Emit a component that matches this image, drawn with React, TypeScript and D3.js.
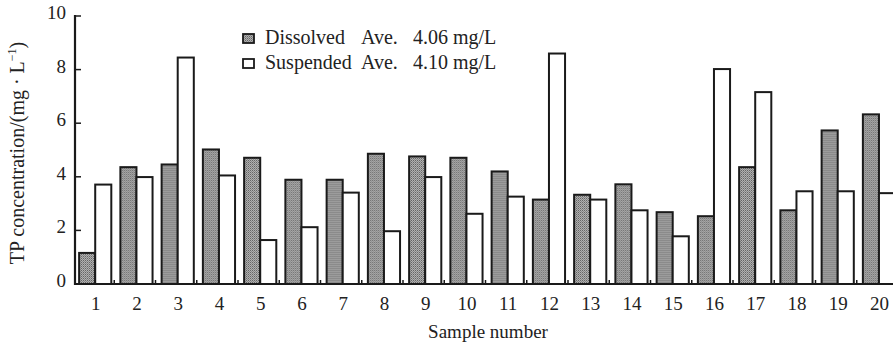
import React from 'react'
import * as d3 from 'd3'

const samples = ['1', '2', '3', '4', '5', '6', '7', '8', '9', '10', '11', '12', '13', '14', '15', '16', '17', '18', '19', '20']
const dissolved = [1.16, 4.36, 4.46, 5.02, 4.71, 3.89, 3.89, 4.86, 4.76, 4.71, 4.2, 3.15, 3.33, 3.72, 2.68, 2.53, 4.36, 2.75, 5.73, 6.33]
const suspended = [3.71, 3.99, 8.45, 4.05, 1.64, 2.12, 3.41, 1.97, 3.99, 2.62, 3.26, 8.6, 3.15, 2.75, 1.78, 8.02, 7.16, 3.46, 3.46, 3.39]
const yTicks = [0, 2, 4, 6, 8, 10]
const seriesKeys = ['dissolved', 'suspended']
const legendNames = ['Dissolved', 'Suspended']
const legendAve = ['4.06 mg/L', '4.10 mg/L']

const width = 893
const height = 349
const margin = { top: 16, right: -7, bottom: 65, left: 75 }
const font = '"Liberation Serif", "Times New Roman", serif'

export default function App() {
	const x = d3
		.scaleBand()
		.domain(samples)
		.range([margin.left, width - margin.right])
		.paddingInner(0)
	const bw = x.bandwidth()
	// dissolved bar a bit wider than suspended, like the original
	const x1 = d3
		.scaleBand()
		.domain(seriesKeys)
		.range([0.1 * bw, 0.88 * bw])
	const y = d3
		.scaleLinear()
		.domain([0, 10])
		.range([height - margin.bottom, margin.top])

	const rows = samples.map((s, i) => ({ s, dissolved: dissolved[i], suspended: suspended[i] }))
	const y0 = y(0)

	return (
		<div style={{ position: 'absolute', left: 0, top: 0 }}>
			<svg width={width} height={height} style={{ display: 'block', background: '#fff' }}>
				<defs>
					<pattern id="dots" width="2" height="2" patternUnits="userSpaceOnUse">
						<rect width="2" height="2" fill="#b0b0b0" />
						<rect width="1" height="1" fill="#666" />
						<rect x="1" y="1" width="1" height="1" fill="#888" />
					</pattern>
				</defs>

				{/* bars */}
				{rows.map(d => (
					<g key={d.s} transform={`translate(${x(d.s)},0)`}>
						{seriesKeys.map(k => (
							<rect
								key={k}
								x={x1(k)}
								y={y(d[k])}
								width={x1.bandwidth()}
								height={y0 - y(d[k])}
								fill={k === 'dissolved' ? 'url(#dots)' : '#fff'}
								stroke="#1a1a1a"
								strokeWidth={2}
							/>
						))}
					</g>
				))}

				{/* x axis */}
				<line x1={margin.left} x2={width} y1={y0} y2={y0} stroke="#1a1a1a" strokeWidth={2.2} />
				{samples.slice(1).map(s => (
					<line key={s} x1={x(s) - 2} x2={x(s) - 2} y1={y0} y2={y0 - 4} stroke="#1a1a1a" strokeWidth={1.5} />
				))}
				{samples.map(s => (
					<text key={s} x={x(s) + bw / 2} y={y0 + 26} textAnchor="middle" fontFamily={font} fontSize={19} fill="#222">
						{s}
					</text>
				))}
				<text x={488} y={338} textAnchor="middle" fontFamily={font} fontSize={19} fill="#222">
					Sample number
				</text>

				{/* y axis */}
				<line x1={margin.left} x2={margin.left} y1={y(10) - 1} y2={y0 + 1} stroke="#1a1a1a" strokeWidth={2.2} />
				{yTicks.map(t => (
					<g key={t}>
						<line x1={margin.left} x2={margin.left + 6} y1={y(t)} y2={y(t)} stroke="#1a1a1a" strokeWidth={1.5} />
						<text x={margin.left - 9} y={y(t) + 3} textAnchor="end" fontFamily={font} fontSize={19} fill="#222">
							{t}
						</text>
					</g>
				))}
				<text
					transform={`translate(24, ${(y(0) + y(10)) / 2 + 3}) rotate(-90)`}
					textAnchor="middle"
					fontFamily={font}
					fontSize={20}
					fill="#222"
				>
					TP concentration/(mg · L
					<tspan dy={-8} fontSize={12}>−1</tspan>
					<tspan dy={8}>)</tspan>
				</text>

				{/* legend */}
				{seriesKeys.map((k, i) => (
					<g key={k} transform={`translate(243, ${34 + i * 25})`}>
						<rect
							width={11}
							height={9}
							fill={k === 'dissolved' ? 'url(#dots)' : '#fff'}
							stroke="#1a1a1a"
							strokeWidth={1.8}
						/>
						<text x={22} y={10} fontFamily={font} fontSize={20} fill="#222">
							{legendNames[i]}
						</text>
						<text x={118} y={10} fontFamily={font} fontSize={20} fill="#222">
							Ave.
						</text>
						<text x={170} y={10} fontFamily={font} fontSize={20} fill="#222">
							{legendAve[i]}
						</text>
					</g>
				))}
			</svg>
		</div>
	)
}
